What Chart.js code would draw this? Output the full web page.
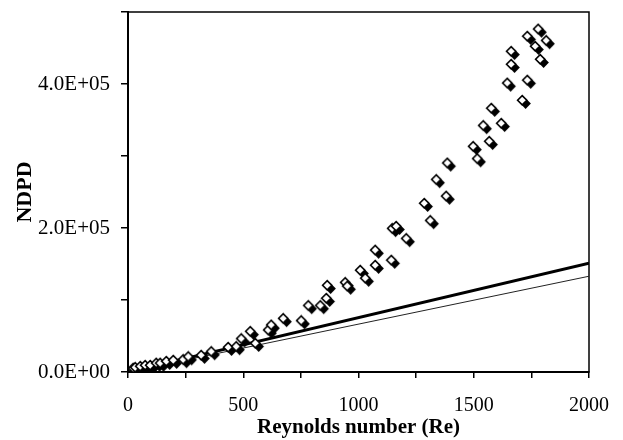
<!DOCTYPE html>
<html>
<head>
<meta charset="utf-8">
<title>NDPD vs Reynolds number</title>
<script src="https://cdn.jsdelivr.net/npm/chart.js@4.4.1/dist/chart.umd.min.js"></script>
<style>
  html, body { margin: 0; padding: 0; background: #fff; }
  #chart { display: block; }
</style>
</head>
<body>
<canvas id="chart" width="623" height="440"></canvas>
<script>
const reynolds = [30, 39, 61, 82, 104, 130, 147, 174, 204, 247, 269, 325, 369, 442, 477, 499, 538, 560,
  616, 629, 681, 759, 790, 842, 868, 872, 950, 959, 1015, 1037, 1080, 1080, 1150, 1154, 1171, 1215,
  1293, 1319, 1345, 1388, 1393, 1505, 1523, 1549, 1575, 1584, 1627, 1653, 1670, 1670, 1718, 1740,
  1740, 1774, 1787, 1796, 1822];
const ndpd = [3000, 4000, 5500, 7000, 7000, 10000, 10000, 12500, 14000, 15000, 19000, 21000, 26000,
  32000, 33000, 44000, 54000, 37500, 56000, 63000, 72000, 69000, 90000, 90000, 100000, 118000,
  122000, 117000, 139000, 128000, 167000, 146000, 153000, 197000, 200000, 183000, 232000, 208000,
  265000, 242000, 288000, 311000, 294000, 340000, 318000, 364000, 343000, 399000, 443000, 425000,
  375000, 464000, 403000, 450000, 474000, 432000, 458000];

// The two straight lines
const lineRe = [0, 2000];
const thickLine = [0, 151000];
const thinLine = [0, 133000];

// Axis labels
const xLabelValues = [0, 500, 1000, 1500, 2000];
const xTickLabels = ['0', '500', '1000', '1500', '2000'];
const yLabelValues = [0, 200000, 400000];
const yTickLabels = ['0.0E+00', '2.0E+05', '4.0E+05'];

const serif = "'Liberation Serif', 'Times New Roman', serif";

// Marker: white diamond with a black diamond behind it, shifted down-right
function makeMarker() {
    const c = document.createElement('canvas');
    c.width = 16;
    c.height = 16;
    const g = c.getContext('2d');
    function diamond(cx, cy, r) {
        g.beginPath();
        g.moveTo(cx, cy - r);
        g.lineTo(cx + r, cy);
        g.lineTo(cx, cy + r);
        g.lineTo(cx - r, cy);
        g.closePath();
    }
    diamond(9.6, 9.6, 5.3);
    g.fillStyle = '#000';
    g.fill();
    diamond(6.2, 6.2, 4.6);
    g.fillStyle = '#fff';
    g.fill();
    g.lineWidth = 1.6;
    g.strokeStyle = '#000';
    g.stroke();
    return c;
}

const points = reynolds.map((re, i) => ({ x: re, y: ndpd[i] }));
const toXY = (ys) => lineRe.map((re, i) => ({ x: re, y: ys[i] }));

// Box around the plot area
const frame = {
    id: 'frame',
    beforeDatasetsDraw(chart) {
        const a = chart.chartArea;
        const c = chart.ctx;
        c.save();
        c.strokeStyle = '#000';
        c.lineWidth = 1.5;
        c.strokeRect(a.left, a.top, a.right - a.left, a.bottom - a.top);
        c.restore();
    }
};

new Chart(document.getElementById('chart'), {
    type: 'scatter',
    data: {
        datasets: [
            {
                label: 'NDPD',
                data: points,
                pointStyle: makeMarker(),
                pointRadius: 7,
                order: 0
            },
            {
                label: 'fit 1',
                data: toXY(thickLine),
                showLine: true,
                borderColor: '#000',
                borderWidth: 3,
                pointRadius: 0,
                order: 1
            },
            {
                label: 'fit 2',
                data: toXY(thinLine),
                showLine: true,
                borderColor: '#222',
                borderWidth: 1,
                pointRadius: 0,
                order: 2
            }
        ]
    },
    options: {
        responsive: false,
        animation: false,
        events: [],
        layout: { padding: { left: 0, right: 34, top: 12, bottom: 0 } },
        plugins: {
            legend: { display: false },
            tooltip: { enabled: false }
        },
        scales: {
            x: {
                type: 'linear',
                min: 0,
                max: 2000,
                afterFit: (s) => { s.height = 68; s.paddingLeft = 0; s.paddingRight = 0; },
                ticks: {
                    stepSize: 250,
                    autoSkip: false,
                    maxRotation: 0,
                    padding: 16,
                    color: '#000',
                    font: { family: serif, size: 20 },
                    callback: (v) => {
                        const i = xLabelValues.indexOf(v);
                        return i >= 0 ? xTickLabels[i] : '';
                    }
                },
                grid: { drawOnChartArea: false, tickLength: 6, color: '#000', lineWidth: 1.5 },
                border: { color: '#000', width: 2 },
                title: {
                    display: true,
                    text: 'Reynolds number (Re)',
                    color: '#000',
                    font: { family: serif, size: 21, weight: 'bold' },
                    padding: { top: 0, bottom: 0 }
                }
            },
            y: {
                type: 'linear',
                min: 0,
                max: 500000,
                afterFit: (s) => { s.width = 128; s.paddingTop = 0; s.paddingBottom = 0; },
                ticks: {
                    stepSize: 100000,
                    autoSkip: false,
                    padding: 11,
                    color: '#000',
                    font: { family: serif, size: 21 },
                    callback: (v) => {
                        const i = yLabelValues.indexOf(v);
                        return i >= 0 ? yTickLabels[i] : '';
                    }
                },
                grid: { drawOnChartArea: false, tickLength: 7, color: '#000', lineWidth: 1.5 },
                border: { color: '#000', width: 2 },
                title: {
                    display: true,
                    text: 'NDPD',
                    color: '#000',
                    font: { family: serif, size: 22, weight: 'bold' },
                    padding: { top: 12, bottom: 0 }
                }
            }
        }
    },
    plugins: [frame]
});
</script>
</body>
</html>
